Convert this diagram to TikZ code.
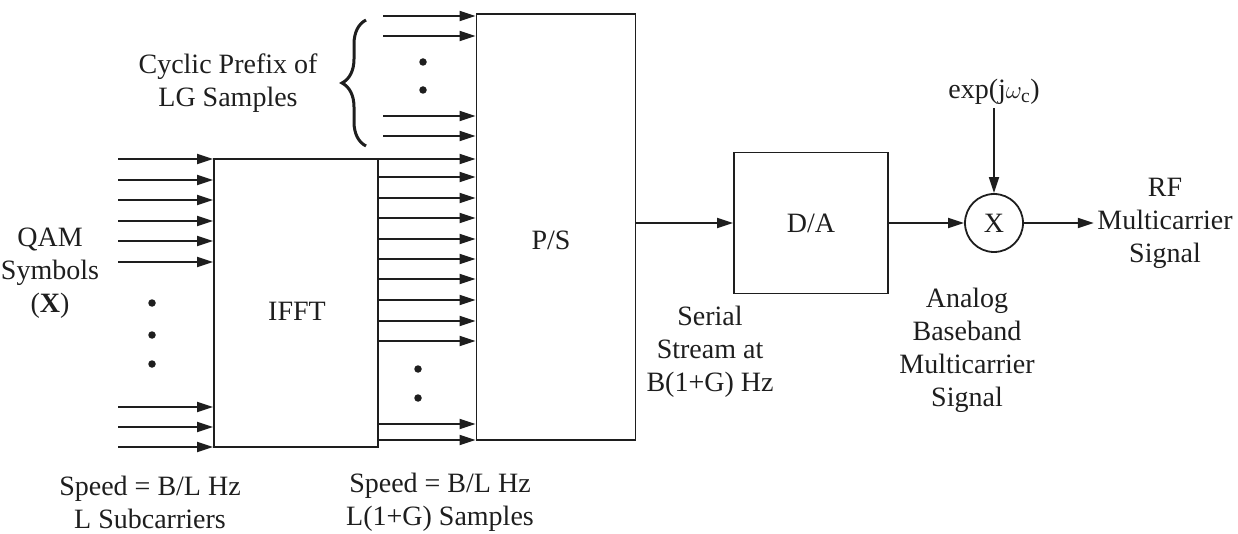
\documentclass[tikz,border=0pt]{standalone}
\usepackage{fontspec}
\setmainfont{Liberation Serif}
\usetikzlibrary{arrows.meta,decorations.pathreplacing}
\definecolor{diagink}{HTML}{1E1E1E}

\begin{document}
\begin{tikzpicture}[
  x=1pt,
  y=-1pt,
  every node/.style={font=\fontsize{28}{33}\selectfont, text=diagink},
  block/.style={draw=diagink, line width=1.8pt, inner sep=0pt},
  sig/.style={draw=diagink, line width=1.8pt, -{Triangle[length=16pt,width=10pt]}},
  lbl/.style={align=center},
  dot/.style={circle, fill=diagink, inner sep=0pt, minimum size=7.5pt}
]
  \useasboundingbox (0,0) rectangle (1238,534);

  % blocks
  \node[block, minimum width=164pt, minimum height=288pt] (ifft) at (296,303) {};
  \node[block, minimum width=159pt, minimum height=426pt] (ps) at (556,227) {};
  \node[block, minimum width=154pt, minimum height=141pt] (da) at (811,223) {D/A};
  \node[block, circle, minimum size=58pt] (mix) at (994,223) {X};
  \node (ifftlabel) at (297,311) {IFFT};
  \node (pslabel) at (551,240) {P/S};

  % parallel inputs
  \foreach \y [count=\i] in {159,180,200,221,241,262,407,427,447} {
    \coordinate (qam\i) at (118,\y);
    \draw[sig] (qam\i) -- (qam\i -| ifft.west);
  }
  \foreach \y [count=\i] in {303,335,364}
    \node[dot] (qdot\i) at (152,\y) {};

  \foreach \y in {159,177,198,218,239,259,279,300,321,341,424,440}
    \draw[sig] (ifft.east |- 0,\y) -- (ps.west |- 0,\y);
  \foreach \y [count=\i] in {369,398}
    \node[dot] (sdot\i) at (418,\y) {};

  % cyclic prefix
  \foreach \y [count=\i] in {16,36,116,136} {
    \coordinate (cp\i) at (383,\y);
    \draw[sig] (cp\i) -- (cp\i -| ps.west);
  }
  \foreach \y [count=\i] in {62,90}
    \node[dot] (cdot\i) at (423,\y) {};
  \draw[diagink, line width=3pt, decorate, decoration={brace, amplitude=24pt}]
    (366,146) -- (366,20);

  % serial chain
  \node (exp) at (994,92) {exp(j$\omega_{\mathrm{c}}$)};
  \node[lbl] (rf) at (1165,223) {RF\\Multicarrier\\Signal};
  \draw[sig] (ps.east |- da.west) -- (da.west);
  \draw[sig] (da.east) -- (mix.west);
  \draw[sig] (exp.south) -- (mix.north);
  \draw[sig] (mix.east) -- (rf.west);

  % labels
  \node[lbl] (cplabel) at (228,83) {Cyclic Prefix of\\LG Samples};
  \node[lbl] (qam) at (50,273) {QAM\\Symbols\\(\textbf{X})};
  \node[lbl] (speedin) at (150,502) {Speed = B/L Hz\\L Subcarriers};
  \node[lbl] (speedout) at (440,502) {Speed = B/L Hz\\L(1+G) Samples};
  \node[lbl] (serial) at (710,352) {Serial\\Stream at\\B(1+G) Hz};
  \node[lbl] (analog) at (967,350) {Analog\\Baseband\\Multicarrier\\Signal};
\end{tikzpicture}
\end{document}
